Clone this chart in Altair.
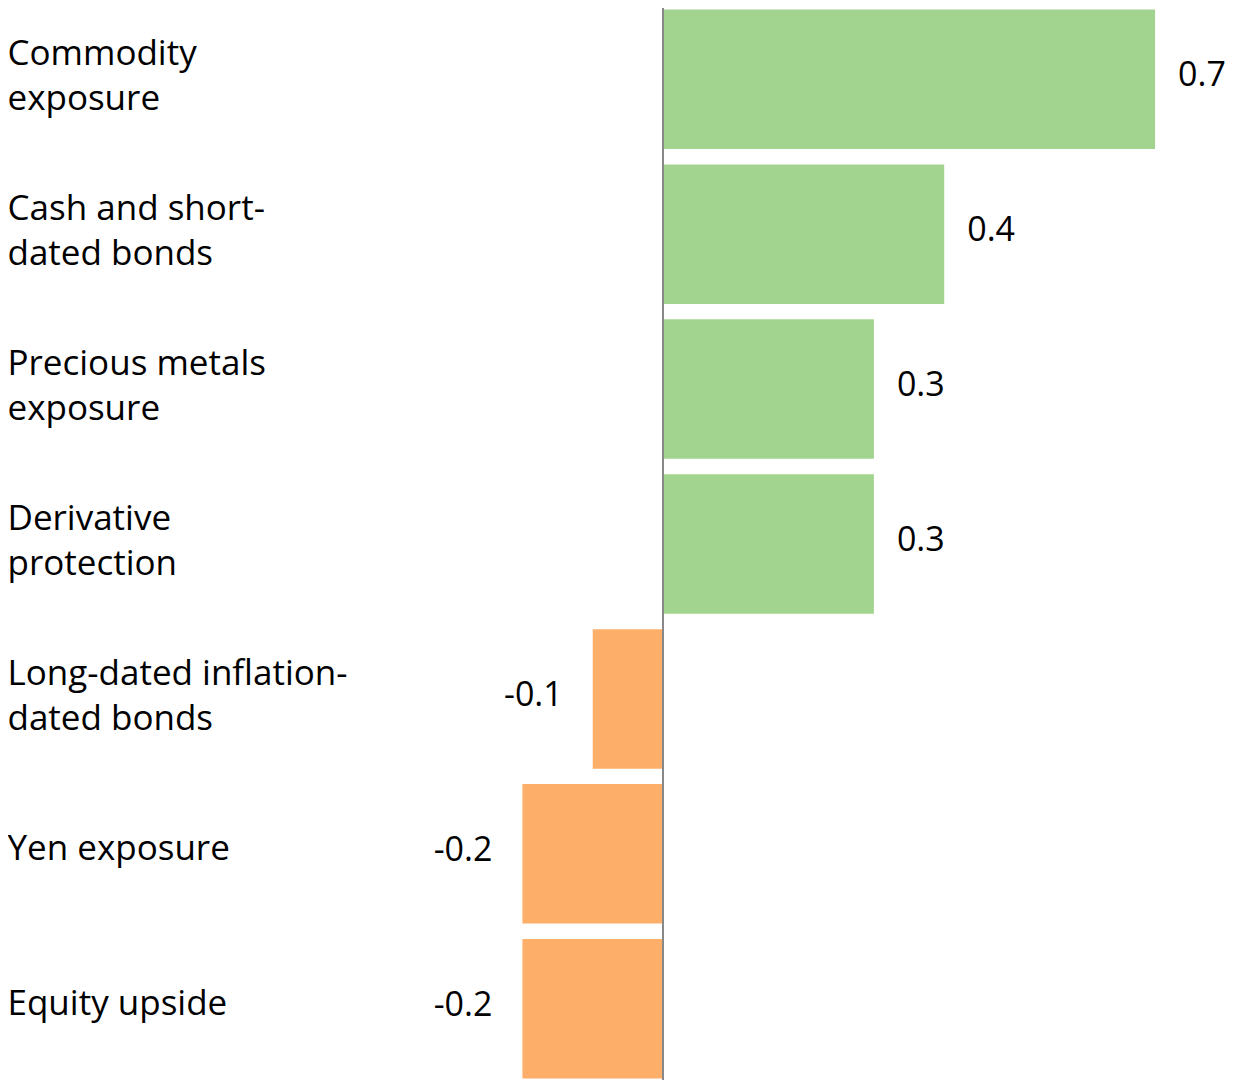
import altair as alt
import pandas as pd

categories = [
    "Commodity\nexposure",
    "Cash and short-\ndated bonds",
    "Precious metals\nexposure",
    "Derivative\nprotection",
    "Long-dated inflation-\ndated bonds",
    "Yen exposure",
    "Equity upside",
]
values = [0.7, 0.4, 0.3, 0.3, -0.1, -0.2, -0.2]
value_labels = ["0.7", "0.4", "0.3", "0.3", "-0.1", "-0.2", "-0.2"]

df = pd.DataFrame({"category": categories, "value": values, "label": value_labels})
df["sign"] = ["pos" if v >= 0 else "neg" for v in values]

FONT = "Open Sans"
FS = 35
VFS = 34
W = 847
H = 1072

xscale = alt.Scale(domain=[-0.4026, 0.8023], nice=False, zero=False)
x = alt.X("value:Q", scale=xscale, axis=None)
y = alt.Y(
    "category:N",
    sort=categories,
    scale=alt.Scale(paddingInner=0.0995, paddingOuter=0.01, round=False),
    axis=alt.Axis(
        title=None, domain=False, ticks=False, grid=False,
        labelAlign="left", labelPadding=373, labelFont=FONT, labelFontSize=FS,
        labelColor="black", labelLineHeight=45, labelLimit=0,
        labelBaseline="middle", labelExpr="split(datum.label, '\\n')",
        labelOffset={"condition": {"test": "indexof(datum.label, '\\n') >= 0", "value": -25}, "value": -5},
    ),
)

base = alt.Chart(df)
bars = base.mark_bar().encode(
    x=x, x2=alt.datum(0), y=y,
    color=alt.Color("sign:N", scale=alt.Scale(domain=["pos", "neg"], range=["#a3d48f", "#fdae69"]), legend=None),
)
pos_text = base.transform_filter("datum.value >= 0").mark_text(
    align="left", baseline="middle", dx=23, dy=-3, font=FONT, fontSize=VFS, color="black"
).encode(x=x, y=y, text="label:N")
neg_text = base.transform_filter("datum.value < 0").mark_text(
    align="right", baseline="middle", dx=-30, dy=-3, font=FONT, fontSize=VFS, color="black"
).encode(x=x, y=y, text="label:N")

rule = alt.Chart(pd.DataFrame({"zero": [0]})).mark_rule(color="#888888", strokeWidth=2).encode(
    x=alt.X("zero:Q", scale=xscale), y=alt.value(-4), y2=alt.value(H + 6)
)

chart = alt.layer(bars, pos_text, neg_text, rule).properties(
    width=W, height=H,
    autosize=alt.AutoSizeParams(type="none"),
    padding={"left": 372, "top": 0, "right": 0, "bottom": 0},
).configure_view(stroke=None)

chart.save("out.html", embed_options={"renderer": "svg", "actions": False})
